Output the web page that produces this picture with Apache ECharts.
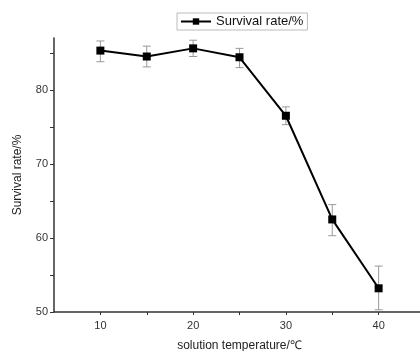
<!DOCTYPE html>
<html><head><meta charset="utf-8">
<script src="https://cdn.jsdelivr.net/npm/echarts@6/dist/echarts.min.js"></script>
<style>html,body{margin:0;padding:0;background:#fff}#c{width:420px;height:351px}</style>
</head><body><div id="c"></div>
<script>
const temperatures = [10, 15, 20, 25, 30, 35, 40];
const survival = [85.3, 84.5, 85.6, 84.4, 76.5, 62.5, 53.2];
const errLow = [83.8, 83.1, 84.5, 83.0, 75.3, 60.3, 50.3];
const errHigh = [86.6, 85.9, 86.7, 85.6, 77.7, 64.5, 56.2];
const yTicks = [50, 55, 60, 65, 70, 75, 80, 85];
const yLabels = [50, 60, 70, 80];
const xTicks = [10, 15, 20, 25, 30, 35, 40];
const xLabels = [10, 20, 30, 40];

const font = 'Liberation Sans, Arial, sans-serif';
const chart = echarts.init(document.getElementById('c'));
const errData = temperatures.map((t, i) => [t, errLow[i], errHigh[i]]);
chart.setOption({
  animation: false,
  legend: {
    data: ['Survival rate/%'],
    left: 177, top: 13,
    padding: [2, 4, 2, 3],
    borderColor: '#bbb', borderWidth: 1,
    itemWidth: 30, itemHeight: 8, itemGap: 4,
    textStyle: { fontFamily: font, fontSize: 13, color: '#111' }
  },
  grid: { left: 54, top: 38, width: 371, height: 274, containLabel: false, outerBoundsMode: 'none' },
  xAxis: {
    type: 'value', min: 5, max: 45, interval: 5,
    name: 'solution temperature/℃', nameLocation: 'middle', nameGap: 28,
    nameTextStyle: { fontFamily: font, fontSize: 12, color: '#222' },
    axisLine: { show: true, lineStyle: { color: '#333', width: 1.5 } },
    axisTick: { show: true, length: 3, customValues: xTicks, lineStyle: { color: '#333' } },
    axisLabel: {
      customValues: xLabels,
      formatter: v => (xLabels.indexOf(v) >= 0 ? String(v) : ''),
      fontFamily: font, fontSize: 11, color: '#333', margin: 8
    },
    splitLine: { show: false }
  },
  yAxis: {
    type: 'value', min: 50, max: 87, interval: 5,
    name: 'Survival rate/%', nameLocation: 'middle', nameGap: 30,
    nameTextStyle: { fontFamily: font, fontSize: 12, color: '#222' },
    axisLine: { show: true, lineStyle: { color: '#333', width: 1.5 } },
    axisTick: { show: true, length: 4, customValues: yTicks, lineStyle: { color: '#333' } },
    axisLabel: {
      customValues: yLabels,
      formatter: v => (yLabels.indexOf(v) >= 0 ? String(v) : ''),
      fontFamily: font, fontSize: 11, color: '#333', margin: 6
    },
    splitLine: { show: false }
  },
  series: [
    {
      type: 'custom', name: 'err', silent: true, z: 1,
      data: errData,
      renderItem: function (params, api) {
        const x = api.value(0);
        const lo = api.coord([x, api.value(1)]);
        const hi = api.coord([x, api.value(2)]);
        const w = 4;
        const st = { stroke: '#999', lineWidth: 1 };
        return { type: 'group', children: [
          { type: 'line', shape: { x1: lo[0], y1: lo[1], x2: hi[0], y2: hi[1] }, style: st },
          { type: 'line', shape: { x1: lo[0]-w, y1: lo[1], x2: lo[0]+w, y2: lo[1] }, style: st },
          { type: 'line', shape: { x1: hi[0]-w, y1: hi[1], x2: hi[0]+w, y2: hi[1] }, style: st }
        ]};
      }
    },
    {
      type: 'line', name: 'Survival rate/%', z: 3,
      data: temperatures.map((t, i) => [t, survival[i]]),
      symbol: 'rect', symbolSize: 8,
      lineStyle: { color: '#000', width: 2 },
      itemStyle: { color: '#000' }
    }
  ]
});
</script></body></html>
